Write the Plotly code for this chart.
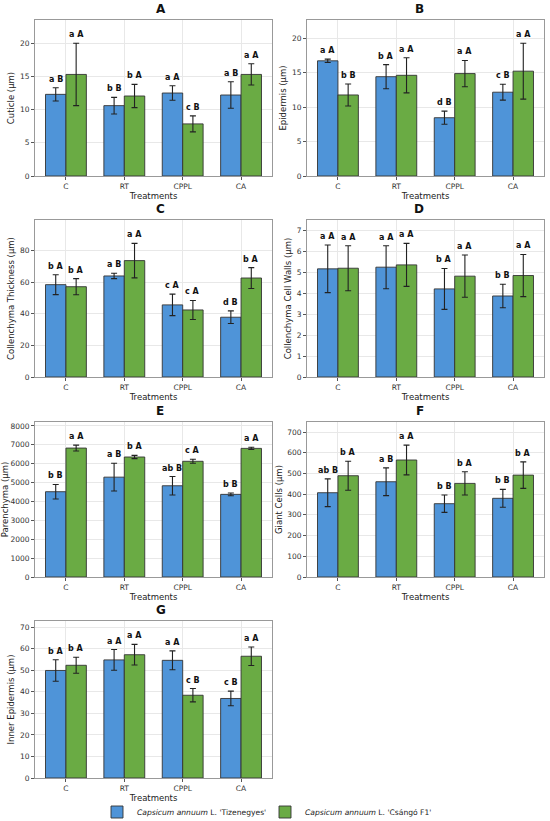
import plotly.graph_objects as go

treatments = ['C', 'RT', 'CPPL', 'CA']
cultivar_1 = "<i>Capsicum annuum</i> L. 'Tizenegyes'"
cultivar_2 = "<i>Capsicum annuum</i> L. 'Csángó F1'"

# ---- A: cuticle ----
cuticle_tiz = [12.3, 10.6, 12.5, 12.2]
cuticle_tiz_sd = [1.0, 1.25, 1.1, 2.0]
cuticle_csa = [15.3, 12.05, 7.85, 15.3]
cuticle_csa_sd = [4.7, 1.75, 1.2, 1.6]
cuticle_tiz_let = ['a B', 'b B', 'a A', 'a B']
cuticle_csa_let = ['a A', 'b A', 'c B', 'a A']

# ---- B: epidermis ----
epidermis_tiz = [16.7, 14.4, 8.45, 12.15]
epidermis_tiz_sd = [0.25, 1.75, 0.95, 1.15]
epidermis_csa = [11.75, 14.6, 14.85, 15.2]
epidermis_csa_sd = [1.6, 2.55, 1.9, 4.05]
epidermis_tiz_let = ['a A', 'b A', 'd B', 'c B']
epidermis_csa_let = ['b B', 'a A', 'a A', 'a A']

# ---- C: collenchyma thickness ----
coll_thick_tiz = [58.4, 63.9, 45.6, 37.8]
coll_thick_tiz_sd = [6.3, 1.7, 6.8, 4.0]
coll_thick_csa = [57.1, 73.6, 42.4, 62.6]
coll_thick_csa_sd = [5.1, 10.9, 6.0, 6.6]
coll_thick_tiz_let = ['b A', 'a B', 'c A', 'd B']
coll_thick_csa_let = ['b A', 'a A', 'c A', 'b A']

# ---- D: collenchyma cell walls ----
coll_wall_tiz = [5.18, 5.26, 4.22, 3.88]
coll_wall_tiz_sd = [1.14, 1.03, 0.98, 0.56]
coll_wall_csa = [5.21, 5.37, 4.83, 4.86]
coll_wall_csa_sd = [1.08, 1.03, 1.01, 1.01]
coll_wall_tiz_let = ['a A', 'a A', 'b A', 'b B']
coll_wall_csa_let = ['a A', 'a A', 'a A', 'a A']

# ---- E: parenchyma ----
paren_tiz = [4516, 5287, 4831, 4376]
paren_tiz_sd = [385, 735, 490, 70]
paren_csa = [6827, 6354, 6127, 6810]
paren_csa_sd = [158, 88, 105, 60]
paren_tiz_let = ['b B', 'a B', 'ab B', 'b B']
paren_csa_let = ['a A', 'b A', 'c A', 'a A']

# ---- F: giant cells ----
giant_tiz = [407, 460, 354, 380]
giant_tiz_sd = [67, 67, 42, 43]
giant_csa = [489, 565, 452, 492]
giant_csa_sd = [70, 72, 56, 64]
giant_tiz_let = ['ab B', 'a B', 'b B', 'b B']
giant_csa_let = ['b A', 'a A', 'b A', 'b A']

# ---- G: inner epidermis ----
inner_tiz = [49.9, 54.8, 54.6, 36.9]
inner_tiz_sd = [5.0, 4.8, 4.4, 3.4]
inner_csa = [52.3, 57.2, 38.4, 56.5]
inner_csa_sd = [3.7, 4.8, 3.1, 4.3]
inner_tiz_let = ['b A', 'a A', 'a A', 'c B']
inner_csa_let = ['b A', 'a A', 'c B', 'a A']

panels = [
    ('A', 'Cuticle (µm)', cuticle_tiz, cuticle_tiz_sd, cuticle_csa, cuticle_csa_sd,
     cuticle_tiz_let, cuticle_csa_let, 5),
    ('B', 'Epidermis (µm)', epidermis_tiz, epidermis_tiz_sd, epidermis_csa, epidermis_csa_sd,
     epidermis_tiz_let, epidermis_csa_let, 5),
    ('C', 'Collenchyma Thickness (µm)', coll_thick_tiz, coll_thick_tiz_sd, coll_thick_csa,
     coll_thick_csa_sd, coll_thick_tiz_let, coll_thick_csa_let, 20),
    ('D', 'Collenchyma Cell Walls (µm)', coll_wall_tiz, coll_wall_tiz_sd, coll_wall_csa,
     coll_wall_csa_sd, coll_wall_tiz_let, coll_wall_csa_let, 1),
    ('E', 'Parenchyma (µm)', paren_tiz, paren_tiz_sd, paren_csa, paren_csa_sd,
     paren_tiz_let, paren_csa_let, 1000),
    ('F', 'Giant Cells (µm)', giant_tiz, giant_tiz_sd, giant_csa, giant_csa_sd,
     giant_tiz_let, giant_csa_let, 100),
    ('G', 'Inner Epidermis (µm)', inner_tiz, inner_tiz_sd, inner_csa, inner_csa_sd,
     inner_tiz_let, inner_csa_let, 10),
]

W, H = 550, 821
BLUE = '#4F94D8'
GREEN = '#6AAB44'
FONT = 'DejaVu Sans'

# plot boxes in pixels: left, right, top, bottom
col_px = [(35, 272), (307, 544)]
row_px = [(20, 176), (220, 377), (422, 577), (621, 778)]

fig = go.Figure()
annotations = []
xs = list(range(len(treatments)))

for k, (tag, ytitle, t_mean, t_sd, c_mean, c_sd, t_let, c_let, dtick) in enumerate(panels):
    n = k + 1
    row, col = divmod(k, 2)
    left, right = col_px[col]
    top, bottom = row_px[row]
    xa = 'x' if n == 1 else f'x{n}'
    ya = 'y' if n == 1 else f'y{n}'

    for mean, sd, color, name in [(t_mean, t_sd, BLUE, cultivar_1),
                                  (c_mean, c_sd, GREEN, cultivar_2)]:
        fig.add_trace(go.Bar(
            x=xs, y=mean, name=name, xaxis=xa, yaxis=ya,
            marker=dict(color=color, line=dict(color='#333333', width=0.9)),
            error_y=dict(type='data', array=sd, color='#222222', thickness=1.1, width=3),
            showlegend=(n == 1), legendgroup=name,
        ))

    for i in xs:
        for off, mean, sd, lets in [(-0.175, t_mean, t_sd, t_let),
                                    (0.175, c_mean, c_sd, c_let)]:
            annotations.append(dict(
                x=i + off, y=mean[i] + sd[i], xref=xa, yref=ya,
                text=f'<b>{lets[i]}</b>', showarrow=False,
                yanchor='bottom', yshift=2,
                font=dict(family=FONT, size=8, color='#111111'),
            ))

    annotations.append(dict(
        x=(left + right) / 2 / W, y=1 - (top - 11) / H, xref='paper', yref='paper',
        text=f'<b>{tag}</b>', showarrow=False, yanchor='middle',
        font=dict(family=FONT, size=12, color='#111111'),
    ))

    ymax = max(max(m + s for m, s in zip(t_mean, t_sd)),
               max(m + s for m, s in zip(c_mean, c_sd))) * 1.175

    axis_common = dict(
        showline=True, linecolor='#999999', linewidth=1, mirror=True,
        ticks='outside', ticklen=3, tickcolor='#555555',
        tickfont=dict(family=FONT, size=7.5, color='#333333'),
        showgrid=True, gridcolor='#e8e8e8', gridwidth=0.8, zeroline=False,
    )
    fig.layout[xa.replace('x', 'xaxis')] = dict(
        axis_common, domain=[left / W, right / W], anchor=ya,
        range=[-0.53, len(treatments) - 1 + 0.53],
        tickvals=xs, ticktext=treatments,
        title=dict(text='Treatments', font=dict(family=FONT, size=8.5, color='#222222'),
                   standoff=0),
    )
    fig.layout[ya.replace('y', 'yaxis')] = dict(
        axis_common, domain=[1 - bottom / H, 1 - top / H], anchor=xa,
        range=[0, ymax], dtick=dtick,
        title=dict(text=ytitle, font=dict(family=FONT, size=8.5, color='#222222'),
                   standoff=3),
    )

fig.update_layout(
    width=W, height=H,
    margin=dict(l=0, r=0, t=0, b=0, autoexpand=False),
    paper_bgcolor='white', plot_bgcolor='white',
    barmode='group', bargap=0.3, bargroupgap=0,
    annotations=annotations,
    font=dict(family=FONT, size=8, color='#222222'),
    legend=dict(orientation='h', x=97 / W, xanchor='left',
                y=1 - 812 / H, yanchor='middle',
                entrywidth=123, entrywidthmode='pixels', itemwidth=30,
                font=dict(family=FONT, size=7.6, color='#222222'),
                tracegroupgap=0),
)

fig.write_html('out.html',
               config={'displayModeBar': False},
               post_script="document.body.style.margin='0';"
                           "document.body.style.overflow='hidden';")
